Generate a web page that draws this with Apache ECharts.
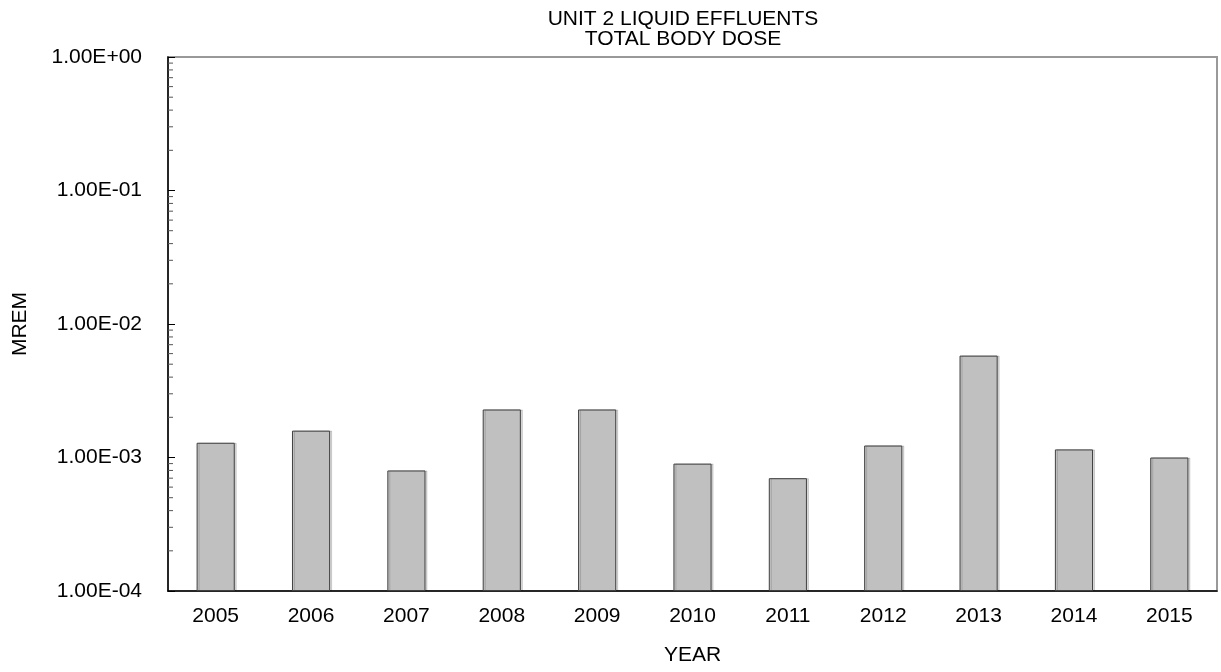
<!DOCTYPE html>
<html>
<head>
<meta charset="utf-8">
<script src="https://cdn.jsdelivr.net/npm/echarts@6/dist/echarts.min.js"></script>
<style>html,body{margin:0;padding:0;background:#fff;}#c{width:1221px;height:672px;}</style>
</head>
<body>
<div id="c"></div>
<script>
const years = ['2005','2006','2007','2008','2009','2010','2011','2012','2013','2014','2015'];
const doseMrem = [1.29e-3, 1.59e-3, 8.0e-4, 2.29e-3, 2.29e-3, 9.0e-4, 7.0e-4, 1.23e-3, 5.8e-3, 1.15e-3, 1.0e-3];
const yMin = 1e-4, yMax = 1;
const minorMultipliers = [2,3,4,5,6,7,8,9];
const minorDecades = [1e-4,1e-3,1e-2,1e-1];
const minorTicks = [];
minorDecades.forEach(d => minorMultipliers.forEach(m => minorTicks.push(m*d)));

function fmt(v){
  const e = Math.round(Math.log10(v));
  const m = v / Math.pow(10, e);
  const s = e < 0 ? '-' : '+';
  const a = Math.abs(e);
  return m.toFixed(2) + 'E' + s + (a < 10 ? '0' + a : '' + a);
}
const FONT = 'Liberation Sans, Arial, sans-serif';
const chart = echarts.init(document.getElementById('c'), null, {renderer:'canvas'});
chart.setOption({
  animation:false,
  backgroundColor:'#fff',
  title:{
    text:'UNIT 2 LIQUID EFFLUENTS\nTOTAL BODY DOSE',
    left:678, top:4, textAlign:'center',
    textStyle:{fontFamily:FONT, fontSize:21, fontWeight:'normal', color:'#000', lineHeight:20}
  },
  grid:{left:168, right:4, top:57, bottom:81, show:true, borderColor:'#999', borderWidth:2, backgroundColor:'transparent'},
  xAxis:{
    type:'category', data:years,
    name:'YEAR', nameLocation:'middle', nameGap:54,
    nameTextStyle:{fontFamily:FONT, fontSize:21, color:'#000'},
    axisLine:{lineStyle:{color:'#000', width:1.5}},
    axisTick:{show:false},
    axisLabel:{fontFamily:FONT, fontSize:21, color:'#000', margin:15},
    splitLine:{show:false}
  },
  yAxis:{
    type:'log', logBase:10, min:yMin, max:yMax, startValue:yMin,
    name:'MREM', nameLocation:'middle', nameGap:137, nameRotate:90,
    nameTextStyle:{fontFamily:FONT, fontSize:21, color:'#000'},
    axisLine:{show:true, lineStyle:{color:'#000', width:1.5}},
    axisTick:{show:true, inside:true, length:7, lineStyle:{color:'#000'}},
    axisLabel:{fontFamily:FONT, fontSize:21, color:'#000', margin:26, formatter:fmt},
    splitLine:{show:false}
  },
  series:[
    {
      type:'bar', data:doseMrem, barWidth:'40%',
      itemStyle:{color:'#c0c0c0', borderColor:'#404040', borderWidth:1,
        shadowColor:'rgba(0,0,0,0.15)', shadowOffsetX:2, shadowOffsetY:0, shadowBlur:0}
    },
    {
      type:'custom', data:minorTicks.map(v => [0, v]), silent:true,
      renderItem:function(params, api){
        const p = api.coord([0, api.value(1)]);
        const x0 = params.coordSys.x;
        return {type:'line', shape:{x1:x0, y1:p[1], x2:x0+5, y2:p[1]}, style:{stroke:'#555', lineWidth:1}};
      },
      z:5
    }
  ]
});
</script>
</body>
</html>
